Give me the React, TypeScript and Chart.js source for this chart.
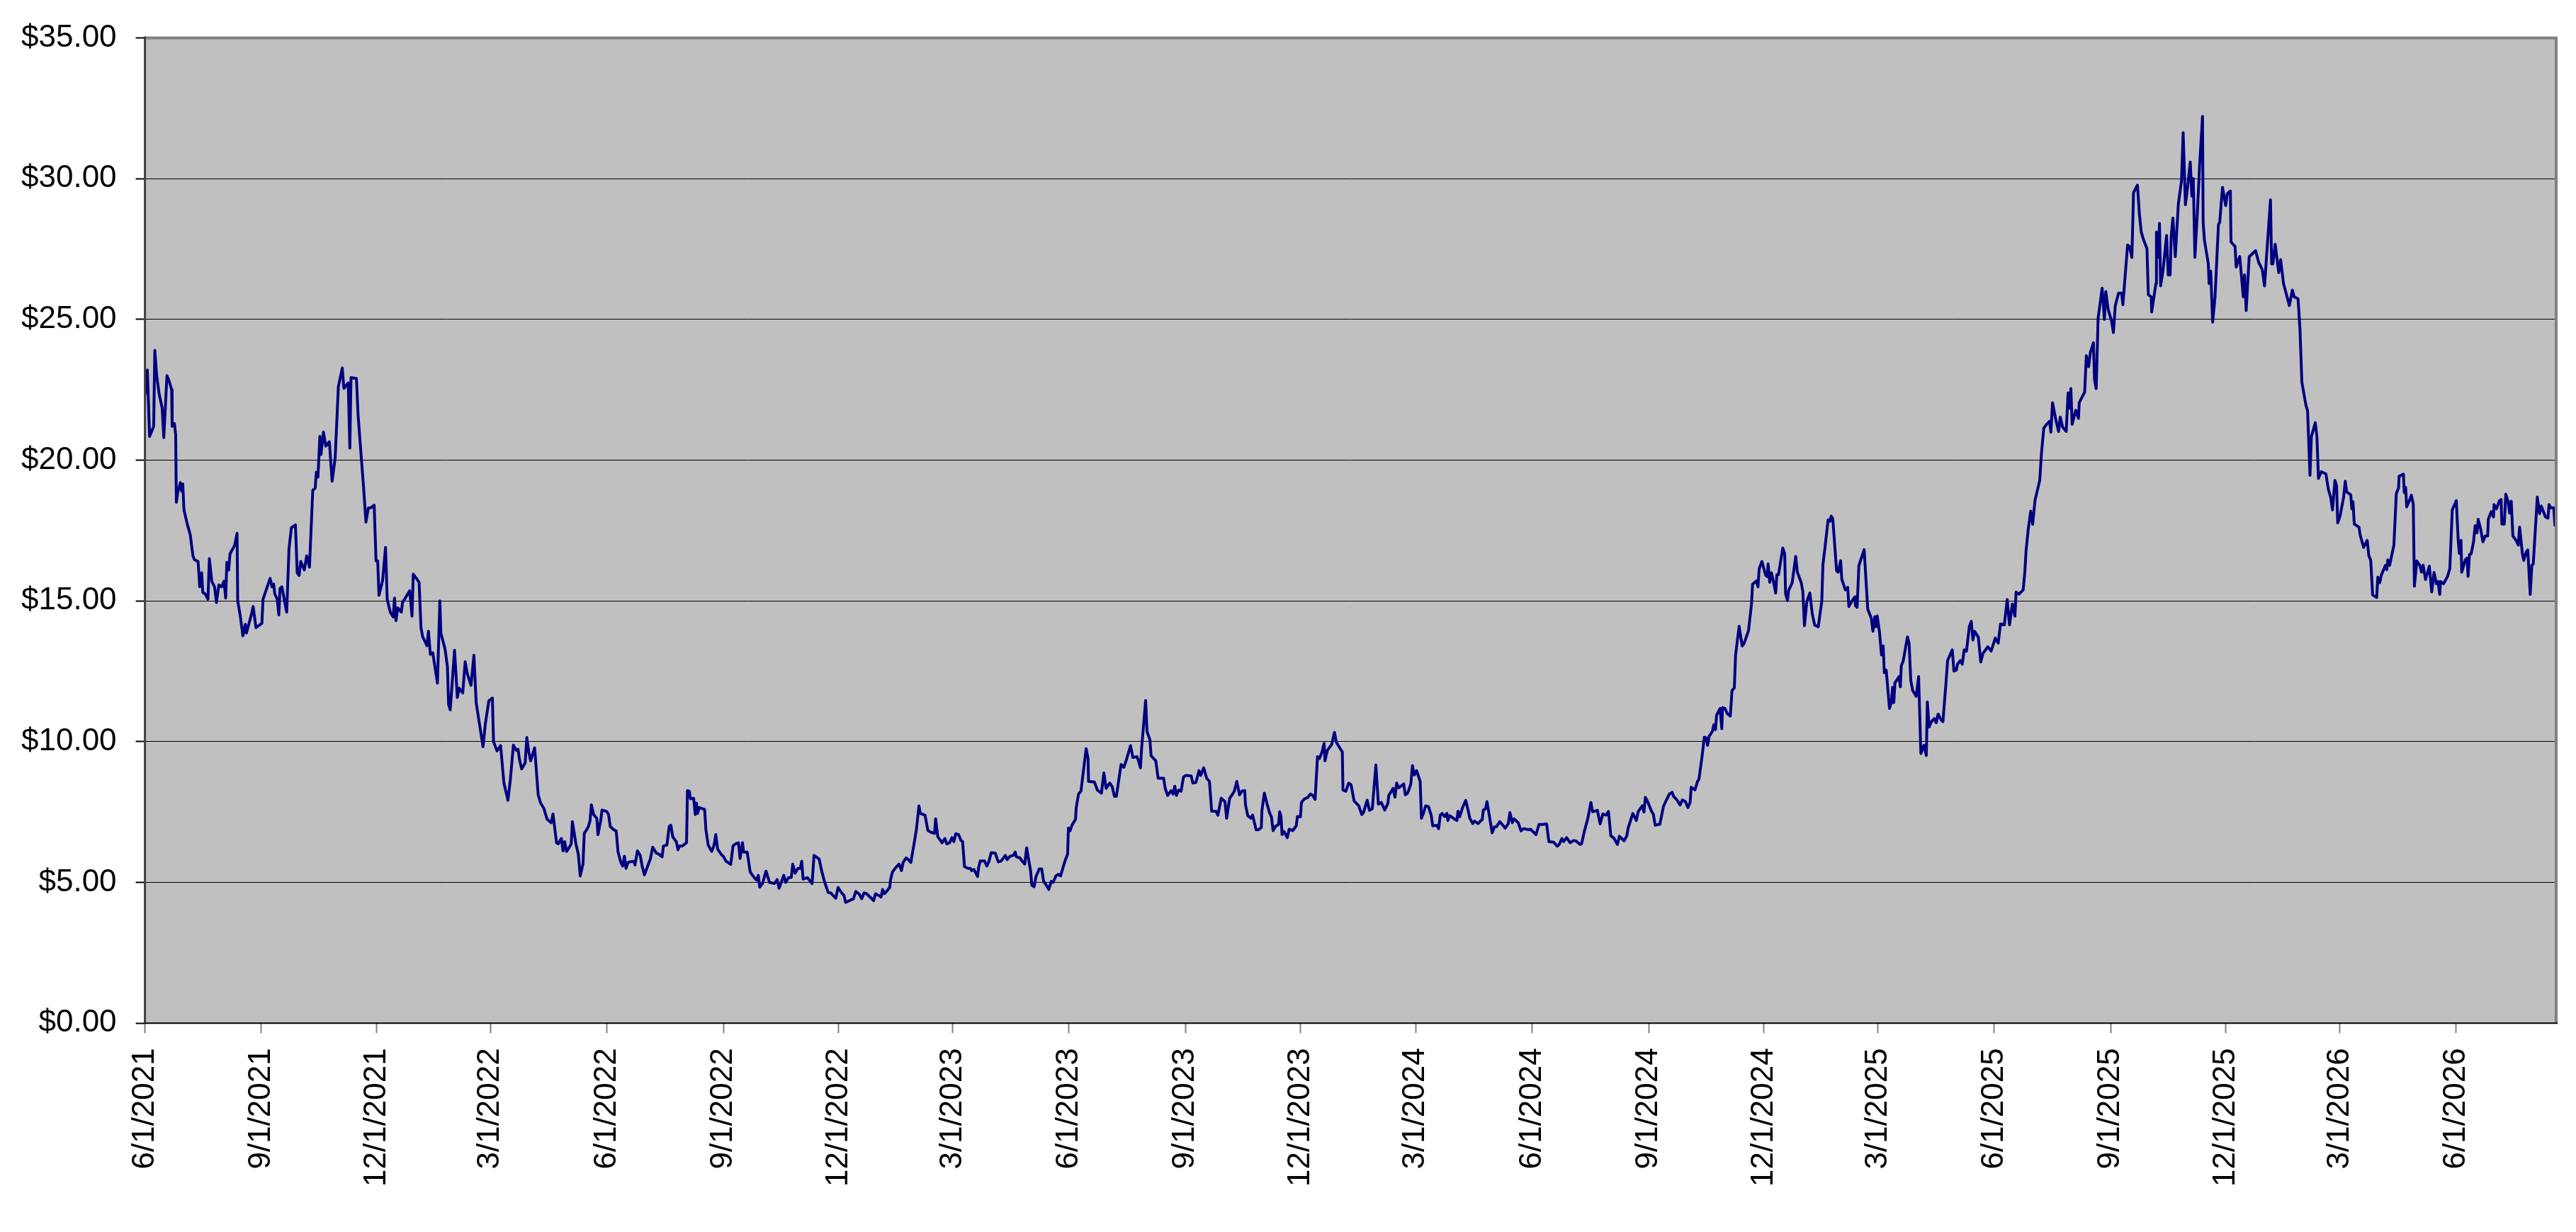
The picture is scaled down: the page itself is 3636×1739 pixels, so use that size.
import { useEffect, useRef } from "react";
import { Chart, registerables } from "chart.js";

Chart.register(...registerables);

// X values are days since 6/1/2021; Y values are prices in dollars.
const START_LABEL = "6/1/2021";
const END_DAY = 1905;

const tickLabels = [
  "6/1/2021", "9/1/2021", "12/1/2021",
  "3/1/2022", "6/1/2022", "9/1/2022", "12/1/2022",
  "3/1/2023", "6/1/2023", "9/1/2023", "12/1/2023",
  "3/1/2024", "6/1/2024", "9/1/2024", "12/1/2024",
  "3/1/2025", "6/1/2025", "9/1/2025", "12/1/2025",
  "3/1/2026", "6/1/2026",
];

const yTickValues = [0, 5, 10, 15, 20, 25, 30, 35];

// Jun 2021 - Mar 2022
const points2021: [number, number][] = [
  [0, 22.3], [1.9, 23.2], [3.7, 20.84], [6.9, 21.2], [7.8, 23.9], [9.3, 23.0], [11.2, 22.36], [13.6, 21.85],
  [14.9, 20.8], [17.4, 23.0], [19.2, 22.8], [21.1, 22.5], [21.5, 21.2], [23.3, 21.3], [24.3, 20.9], [24.8, 18.5],
  [26.1, 18.9], [28.0, 19.2], [28.9, 18.9], [29.9, 19.15], [30.8, 18.24], [33.6, 17.7], [35.8, 17.35], [37.9, 16.6],
  [39.2, 16.46], [42.0, 16.4], [43.3, 15.5], [44.8, 16.0], [45.7, 15.3], [47.6, 15.25], [49.8, 15.06], [50.9, 16.5],
  [52.8, 15.7], [55.0, 15.5], [56.5, 14.94], [58.4, 15.57], [60.6, 15.5], [62.5, 15.7], [63.8, 15.1], [64.7, 16.37],
  [66.2, 16.1], [67.2, 16.67], [70.9, 16.97], [72.8, 17.4], [73.3, 15.0], [75.2, 14.5], [77.4, 13.76], [79.3, 14.17],
  [80.2, 13.86], [84.0, 14.5], [85.5, 14.8], [87.7, 14.05], [92.4, 14.2], [93.3, 15.06], [98.9, 15.8], [100.4, 15.5],
  [101.7, 15.6], [102.6, 15.25], [104.5, 15.06], [105.8, 14.5], [106.7, 15.44], [108.2, 15.5], [112.0, 14.6], [113.8, 16.84],
  [115.7, 17.6], [118.9, 17.7], [120.3, 16.0], [121.8, 15.9], [123.1, 16.4], [125.9, 16.1], [127.8, 16.6], [130.0, 16.2],
  [132.6, 18.93], [134.5, 19.0], [135.4, 19.57], [136.7, 19.4], [138.2, 20.84], [139.1, 20.2], [141.0, 21.0], [142.9, 20.5],
  [145.7, 20.65], [147.9, 19.25], [150.3, 20.08], [152.8, 22.6], [155.9, 23.27], [157.2, 22.55], [160.6, 22.74], [161.9, 20.43],
  [162.8, 22.93], [167.1, 22.9], [168.4, 21.6], [170.3, 20.46], [172.7, 19.06], [174.6, 17.8], [176.5, 18.3], [178.3, 18.3],
  [181.1, 18.4], [182.6, 16.42], [183.9, 16.42], [184.9, 15.2], [187.7, 15.7], [190.1, 16.9], [191.4, 15.06], [193.8, 14.6],
  [196.1, 14.43], [197.2, 15.1], [198.3, 14.3], [199.8, 14.75], [202.6, 14.6], [203.5, 14.94], [209.2, 15.36], [211.0, 14.46],
  [212.0, 15.95], [216.6, 15.66], [218.1, 14.05], [219.4, 13.73], [222.8, 13.41], [224.0, 13.92], [225.5, 13.1], [227.4, 13.16],
  [231.1, 12.08], [233.0, 15.0], [233.8, 13.86], [237.1, 13.29], [239.0, 12.65], [239.9, 11.32], [241.2, 11.13], [244.6, 13.25],
  [246.8, 11.57], [248.3, 11.9], [251.1, 11.73], [253.0, 12.84], [254.8, 12.4], [257.6, 12.0], [259.9, 13.07], [261.7, 11.38],
  [267.1, 9.82], [268.9, 10.62], [271.7, 11.45], [274.5, 11.55], [275.4, 10.0], [278.2, 9.67], [281.0, 9.86],
];

// Mar 2022 - Dec 2022
const points2022: [number, number][] = [
  [283.6, 8.53], [286.8, 7.92], [288.7, 8.65], [291.1, 9.88], [293.5, 9.69], [294.8, 9.73], [295.8, 9.4], [297.6, 9.03],
  [300.4, 9.24], [301.7, 10.15], [303.2, 9.65], [304.7, 9.32], [307.9, 9.78], [310.7, 8.11], [312.6, 7.82], [315.3, 7.62],
  [316.3, 7.45], [317.8, 7.24], [320.9, 7.12], [322.4, 7.43], [325.2, 6.41], [326.5, 6.37], [329.0, 6.56], [330.3, 6.12],
  [331.6, 6.45], [333.1, 6.1], [335.3, 6.25], [336.8, 6.37], [337.7, 7.16], [340.5, 6.37], [342.4, 6.0], [343.9, 5.23],
  [346.1, 5.66], [347.1, 6.74], [348.9, 6.87], [350.4, 6.99], [351.7, 7.2], [352.7, 7.76], [354.5, 7.41], [357.0, 7.28],
  [357.9, 6.7], [360.1, 7.2], [361.1, 7.57], [364.8, 7.52], [366.3, 7.41], [367.6, 6.99], [370.4, 6.87], [372.3, 6.83],
  [373.8, 6.08], [376.0, 5.71], [377.5, 5.58], [378.8, 5.93], [380.1, 5.5], [381.6, 5.71], [383.1, 5.73], [386.3, 5.75],
  [387.2, 5.62], [389.1, 6.12], [391.3, 5.96], [392.8, 5.58], [394.6, 5.27], [396.5, 5.5], [399.3, 5.83], [401.2, 6.25],
  [404.0, 6.04], [405.8, 6.01], [408.6, 5.91], [409.6, 6.29], [412.4, 6.33], [414.2, 6.99], [415.5, 7.03], [417.0, 6.62],
  [419.8, 6.45], [421.1, 6.16], [422.3, 6.29], [424.5, 6.29], [427.9, 6.41], [428.6, 8.26], [430.1, 8.24], [431.0, 7.97],
  [433.5, 7.99], [434.8, 7.41], [435.7, 7.82], [436.6, 7.45], [437.9, 7.66], [442.2, 7.59], [443.2, 6.87], [445.0, 6.33],
  [447.8, 6.1], [449.7, 6.33], [451.0, 6.7], [452.5, 6.18], [455.3, 6.0], [457.2, 5.91], [459.0, 5.76], [462.8, 5.64],
  [464.6, 6.29], [466.5, 6.37], [468.9, 6.41], [470.2, 5.85], [472.1, 6.41], [473.0, 6.08], [475.8, 6.08], [478.2, 5.37],
  [481.4, 5.17], [483.3, 5.08], [484.6, 5.25], [485.7, 4.83], [487.9, 4.96], [490.7, 5.4], [493.5, 5.0], [497.3, 4.96],
  [499.5, 5.1], [501.0, 4.79], [504.7, 5.25], [506.2, 5.0], [508.5, 5.17], [510.7, 5.18], [511.8, 5.65], [513.7, 5.33],
  [515.9, 5.5], [517.8, 5.5], [518.9, 5.75], [520.0, 5.12], [523.4, 5.17], [527.1, 4.96], [528.6, 5.96], [532.7, 5.83],
  [534.6, 5.42], [536.8, 5.04], [539.8, 4.64], [541.7, 4.63], [545.8, 4.44], [547.6, 4.82], [550.4, 4.63], [552.3, 4.54],
  [553.6, 4.29], [556.0, 4.34], [559.8, 4.42], [561.6, 4.68], [564.4, 4.58], [566.3, 4.42],
];

// Dec 2022 - Oct 2023
const points2023: [number, number][] = [
  [568.2, 4.63], [570.1, 4.6], [572.9, 4.48], [575.7, 4.35], [577.2, 4.6], [580.3, 4.52], [581.6, 4.48], [582.8, 4.75],
  [584.1, 4.6], [585.9, 4.68], [588.4, 4.82], [589.1, 5.1], [590.6, 5.37], [593.4, 5.54], [595.8, 5.65], [597.7, 5.42],
  [599.0, 5.71], [601.4, 5.87], [602.7, 5.83], [605.1, 5.71], [607.8, 6.41], [609.6, 6.91], [611.5, 7.72], [612.6, 7.45],
  [616.3, 7.39], [618.6, 6.84], [622.3, 6.76], [623.8, 6.74], [624.7, 7.26], [626.4, 6.62], [629.8, 6.41], [632.0, 6.56],
  [633.5, 6.37], [635.7, 6.41], [637.6, 6.59], [639.1, 6.45], [640.6, 6.73], [642.8, 6.7], [644.7, 6.49], [646.0, 6.45],
  [647.5, 5.56], [650.3, 5.5], [652.2, 5.5], [653.1, 5.42], [655.0, 5.46], [657.8, 5.21], [658.7, 5.54], [660.0, 5.76],
  [663.4, 5.76], [665.2, 5.58], [666.7, 5.73], [668.6, 6.06], [671.8, 6.04], [674.2, 5.73], [676.4, 5.76], [679.8, 5.96],
  [681.1, 5.81], [683.5, 5.93], [686.1, 5.96], [687.6, 6.08], [688.5, 5.91], [691.3, 5.87], [693.2, 5.75], [695.1, 5.65],
  [696.6, 6.23], [698.4, 5.75], [699.7, 5.42], [700.7, 4.9], [702.5, 4.85], [704.0, 5.21], [706.6, 5.48], [708.5, 5.48],
  [710.0, 5.04], [711.9, 4.92], [714.1, 4.75], [716.0, 5.04], [717.5, 5.0], [719.7, 5.23], [721.6, 5.29], [723.4, 5.23],
  [726.8, 5.75], [729.0, 6.01], [729.6, 6.93], [730.9, 6.83], [732.4, 7.03], [735.2, 7.24], [735.8, 7.66], [737.6, 8.14],
  [739.5, 8.24], [743.6, 9.75], [745.1, 9.4], [745.5, 8.59], [750.1, 8.57], [752.5, 8.28], [755.7, 8.17], [757.6, 8.89],
  [759.4, 8.34], [762.2, 8.53], [764.1, 8.41], [766.0, 8.06], [767.5, 8.06], [771.2, 9.19], [773.4, 9.09], [775.3, 9.34],
  [778.7, 9.86], [780.5, 9.44], [783.7, 9.47], [785.0, 9.32], [786.5, 9.07], [787.4, 9.75], [790.6, 11.46], [791.7, 10.36],
  [794.0, 10.07], [794.9, 9.5], [798.6, 9.32], [800.5, 8.7], [804.8, 8.7], [806.1, 8.34], [808.0, 8.09], [810.8, 8.26],
  [812.3, 8.14], [813.6, 8.42], [814.9, 8.09], [816.7, 8.28], [818.6, 8.24], [820.5, 8.74], [822.3, 8.8], [826.6, 8.78],
  [827.9, 8.53], [830.3, 8.55], [832.8, 8.97], [834.1, 8.8], [836.5, 9.07], [838.8, 8.7], [841.0, 8.59], [842.8, 7.53],
  [846.2, 7.53], [847.7, 7.39], [850.3, 7.99], [853.3, 7.87], [854.6, 7.28], [857.0, 7.99], [859.3, 8.14],
];

// Oct 2023 - Aug 2024
const points2024: [number, number][] = [
  [860.7, 8.24], [862.6, 8.59], [864.8, 8.11], [866.7, 8.24], [868.9, 8.26], [869.5, 7.76], [871.3, 7.37], [873.8, 7.28],
  [875.1, 7.39], [877.9, 6.87], [879.7, 6.87], [882.0, 6.95], [882.5, 7.56], [884.4, 8.17], [886.8, 7.74], [888.7, 7.45],
  [890.0, 7.33], [891.3, 6.84], [893.2, 6.99], [895.6, 7.06], [896.5, 7.51], [897.5, 7.37], [898.4, 6.7], [899.9, 6.81],
  [902.5, 6.59], [904.0, 6.89], [906.8, 6.84], [909.6, 7.01], [910.5, 7.34], [912.9, 7.33], [913.7, 7.84], [916.1, 7.97],
  [918.5, 8.01], [920.8, 8.14], [922.6, 8.09], [924.5, 7.95], [926.4, 9.47], [927.9, 9.4], [930.1, 9.65], [931.6, 9.94],
  [932.3, 9.32], [934.2, 9.69], [937.6, 9.9], [939.8, 10.33], [941.3, 9.98], [946.0, 9.63], [946.5, 8.28], [948.8, 8.24],
  [951.0, 8.53], [952.9, 8.47], [955.3, 7.89], [959.0, 7.72], [961.4, 7.41], [962.8, 7.49], [965.6, 7.92], [967.4, 7.56],
  [969.7, 7.62], [972.5, 9.17], [974.5, 7.78], [976.8, 7.84], [979.5, 7.57], [982.0, 7.81], [982.7, 8.09], [986.1, 8.34],
  [987.6, 8.03], [988.9, 8.53], [990.7, 8.36], [994.5, 8.5], [995.8, 8.11], [997.6, 8.17], [1000.1, 8.49], [1001.4, 9.15],
  [1002.9, 8.82], [1004.7, 8.97], [1007.5, 8.59], [1008.5, 7.28], [1010.0, 7.45], [1011.8, 7.72], [1014.1, 7.69], [1016.3, 7.37],
  [1017.4, 7.01], [1020.6, 7.03], [1022.1, 6.91], [1023.4, 7.39], [1024.9, 7.45], [1026.8, 7.34], [1028.6, 7.45], [1029.4, 7.2],
  [1030.9, 7.37], [1033.7, 7.28], [1036.5, 7.2], [1037.4, 7.53], [1038.7, 7.33], [1041.1, 7.67], [1043.5, 7.91], [1045.4, 7.56],
  [1046.7, 7.28], [1049.1, 7.09], [1050.4, 7.18], [1053.2, 7.09], [1056.6, 7.24], [1057.4, 7.57], [1059.2, 7.62], [1060.3, 7.87],
  [1064.4, 6.76], [1066.3, 6.98], [1067.8, 6.98], [1070.4, 7.16], [1072.3, 7.06], [1074.7, 6.93], [1077.1, 7.09], [1078.4, 7.48],
  [1080.3, 7.12], [1081.6, 7.26], [1085.0, 7.12], [1087.2, 6.83], [1089.1, 6.91], [1093.4, 6.87], [1094.7, 6.89], [1099.0, 6.7],
  [1101.4, 7.06], [1103.6, 7.06], [1107.4, 7.08], [1109.2, 6.45], [1113.0, 6.43], [1115.8, 6.29], [1117.1, 6.33], [1119.5, 6.56],
  [1120.8, 6.45], [1123.2, 6.59], [1126.0, 6.41], [1128.8, 6.49], [1130.7, 6.47], [1133.9, 6.35], [1135.0, 6.37], [1137.2, 6.81],
  [1140.0, 7.28], [1142.4, 7.84], [1143.7, 7.51], [1147.5, 7.56], [1149.7, 7.08],
];

// Aug 2024 - Jun 2025
const points2025a: [number, number][] = [
  [1151.8, 7.43], [1154.4, 7.39], [1156.3, 7.52], [1158.1, 6.66], [1160.6, 6.57], [1163.4, 6.35], [1164.9, 6.64], [1168.6, 6.48],
  [1170.8, 6.66], [1171.8, 6.93], [1175.5, 7.45], [1178.3, 7.2], [1179.8, 7.52], [1183.0, 7.72], [1184.3, 7.5], [1185.4, 8.02],
  [1187.2, 7.87], [1190.4, 7.52], [1191.7, 7.43], [1193.2, 7.03], [1196.9, 7.07], [1199.7, 7.7], [1201.1, 7.84], [1204.4, 8.14],
  [1206.6, 8.2], [1207.8, 8.05], [1210.4, 7.93], [1212.8, 7.75], [1214.7, 7.93], [1217.1, 7.87], [1219.0, 7.66], [1220.8, 7.84],
  [1221.6, 8.38], [1224.6, 8.29], [1226.8, 8.61], [1227.7, 8.65], [1230.2, 9.47], [1232.0, 10.16], [1233.3, 10.14], [1234.6, 9.87],
  [1235.8, 10.19], [1238.4, 10.37], [1239.5, 10.6], [1240.8, 10.43], [1241.7, 10.94], [1244.5, 11.18], [1245.8, 10.46], [1246.4, 11.21],
  [1248.3, 11.18], [1250.1, 11.0], [1252.5, 10.91], [1253.9, 11.82], [1255.7, 11.91], [1256.7, 13.08], [1259.5, 14.1], [1261.9, 13.4],
  [1263.2, 13.47], [1266.9, 13.94], [1269.3, 14.89], [1270.1, 15.59], [1273.1, 15.71], [1274.4, 15.5], [1275.3, 16.13], [1277.5, 16.4],
  [1280.5, 15.91], [1281.8, 15.86], [1282.4, 16.31], [1283.7, 15.66], [1285.0, 16.0], [1286.5, 15.71], [1288.4, 15.28], [1289.3, 15.93],
  [1290.6, 15.93], [1294.0, 16.88], [1295.5, 16.67], [1296.2, 15.25], [1297.7, 15.01], [1298.6, 15.37], [1301.4, 15.64], [1304.2, 16.58],
  [1305.5, 16.02], [1308.5, 15.66], [1309.8, 15.34], [1311.1, 14.12], [1313.0, 14.98], [1315.4, 15.28], [1317.3, 14.53], [1319.2, 14.14],
  [1322.0, 14.08], [1324.8, 14.98], [1325.7, 16.29], [1327.2, 16.84], [1329.8, 17.88], [1331.3, 17.83], [1332.2, 18.01], [1333.5, 17.92],
  [1336.5, 16.07], [1337.8, 16.02], [1339.7, 16.43], [1340.6, 15.77], [1343.4, 15.39], [1345.3, 15.48], [1346.2, 14.8], [1348.4, 14.98],
  [1350.9, 15.14], [1351.4, 14.83], [1352.7, 14.77], [1354.1, 16.25], [1358.3, 16.82], [1361.1, 14.71], [1363.9, 14.39], [1365.2, 13.92],
  [1366.7, 14.44], [1367.7, 14.08], [1368.6, 14.47], [1370.5, 13.85], [1372.0, 13.08], [1373.3, 13.4], [1374.2, 12.45], [1375.7, 12.54],
  [1378.3, 11.18], [1379.8, 11.39], [1380.7, 11.93], [1381.7, 11.39], [1382.6, 12.09], [1385.8, 12.31], [1386.9, 11.95], [1387.6, 12.69],
  [1389.1, 12.86], [1392.5, 13.72], [1393.8, 13.49], [1395.1, 12.18], [1396.6, 11.82], [1399.4, 11.61], [1401.3, 12.31], [1403.1, 9.58],
  [1405.5, 9.87], [1407.4, 9.51], [1408.2, 11.41], [1409.6, 10.52], [1411.1, 10.69], [1413.7, 10.82], [1415.2, 10.67], [1416.7, 10.98],
  [1419.0, 10.78], [1420.5, 10.71], [1422.7, 11.95], [1424.2, 12.88], [1427.9, 13.26], [1429.2, 12.51], [1431.1, 12.54], [1432.0, 12.75],
  [1434.3, 12.88], [1435.8, 12.75], [1437.3, 13.26], [1439.1, 13.21], [1441.4, 14.1],
];

// Jun 2025 - Feb 2026
const points2025b: [number, number][] = [
  [1442.9, 14.27], [1444.2, 13.61], [1445.5, 13.92], [1448.5, 13.71], [1450.4, 12.83], [1452.2, 13.14], [1456.0, 13.37], [1458.6, 13.22],
  [1461.9, 13.68], [1464.2, 13.5], [1466.0, 14.18], [1469.0, 14.15], [1471.3, 15.05], [1473.1, 14.15], [1475.4, 14.89], [1477.4, 14.46],
  [1478.3, 15.31], [1480.6, 15.24], [1483.9, 15.39], [1485.2, 16.01], [1486.2, 16.79], [1488.0, 17.57], [1489.9, 18.19], [1491.4, 17.72],
  [1493.3, 18.58], [1497.0, 19.28], [1498.3, 20.21], [1500.2, 21.14], [1503.0, 21.3], [1504.8, 21.38], [1505.8, 20.99], [1507.1, 22.04],
  [1509.5, 21.48], [1511.9, 21.02], [1513.2, 21.53], [1515.1, 21.17], [1517.9, 21.02], [1519.4, 22.39], [1520.7, 21.84], [1521.6, 22.54],
  [1522.6, 21.27], [1525.4, 21.77], [1527.6, 21.48], [1528.2, 22.04], [1532.5, 22.42], [1533.8, 23.71], [1535.6, 23.32], [1537.0, 23.82],
  [1539.4, 24.17], [1540.3, 22.85], [1541.6, 22.54], [1543.1, 25.03], [1546.3, 26.11], [1548.1, 25.0], [1549.2, 25.99], [1551.1, 25.34],
  [1553.7, 24.95], [1555.2, 24.53], [1556.7, 25.49], [1559.3, 25.93], [1561.7, 25.93], [1562.7, 25.52], [1566.4, 27.64], [1567.9, 27.59],
  [1569.8, 27.2], [1571.1, 29.5], [1574.2, 29.77], [1575.7, 28.76], [1577.2, 28.1], [1579.1, 27.82], [1581.7, 27.51], [1582.8, 25.88],
  [1585.1, 25.8], [1585.4, 25.26], [1588.8, 26.27], [1589.2, 28.1], [1590.7, 27.2], [1591.6, 28.41], [1592.5, 26.19], [1594.4, 26.74],
  [1597.2, 27.98], [1598.5, 26.58], [1600.0, 26.58], [1600.9, 27.98], [1602.2, 28.6], [1604.1, 27.23], [1606.5, 29.1], [1609.0, 29.92],
  [1610.3, 31.63], [1612.1, 29.07], [1614.0, 29.77], [1615.9, 30.59], [1617.2, 29.38], [1618.3, 30.0], [1619.6, 27.2], [1621.5, 28.76],
  [1623.3, 30.47], [1625.6, 32.21], [1626.1, 28.45], [1627.1, 27.82], [1630.2, 26.97], [1630.8, 26.27], [1632.1, 26.71], [1633.6, 24.9],
  [1635.5, 25.8], [1638.2, 28.37], [1639.2, 28.45], [1641.4, 29.69], [1643.9, 29.04], [1645.2, 29.46], [1647.6, 29.56], [1648.1, 27.75],
  [1651.3, 27.59], [1652.2, 26.86], [1655.0, 27.23], [1657.8, 25.8], [1658.8, 26.58], [1660.1, 25.31], [1662.5, 27.23], [1664.9, 27.33],
  [1667.5, 27.44], [1670.0, 27.02], [1672.8, 26.77], [1674.6, 26.19], [1679.3, 29.25], [1680.2, 26.97], [1681.2, 26.97], [1683.0, 27.67],
  [1685.8, 26.66], [1687.3, 27.12], [1689.6, 26.27], [1692.4, 25.8], [1694.2, 25.49], [1696.6, 26.04], [1698.0, 25.8], [1701.1, 25.73],
  [1702.6, 24.64], [1704.1, 22.77], [1707.3, 21.95], [1708.6, 21.76], [1710.5, 19.46], [1711.6, 20.83], [1714.7, 21.33], [1716.0, 20.83],
  [1717.2, 19.35], [1719.4, 19.59], [1723.1, 19.51],
];

// Feb 2026 - Aug 2026
const points2026: [number, number][] = [
  [1725.0, 18.97], [1726.8, 18.69], [1728.3, 18.23], [1730.2, 19.28], [1731.5, 19.1], [1732.4, 17.77], [1734.3, 18.02], [1737.1, 18.69],
  [1738.4, 19.25], [1739.5, 18.87], [1742.7, 18.77], [1743.6, 18.27], [1744.5, 18.52], [1745.5, 17.73], [1749.2, 17.62], [1750.1, 17.35],
  [1752.9, 16.9], [1755.7, 17.15], [1757.0, 16.61], [1758.5, 16.44], [1760.0, 15.21], [1763.2, 15.12], [1764.1, 15.84], [1765.6, 15.65],
  [1766.9, 15.92], [1770.1, 16.26], [1771.2, 16.11], [1772.0, 16.46], [1773.4, 16.26], [1776.8, 16.98], [1778.7, 18.81], [1780.5, 19.02],
  [1780.9, 19.43], [1784.3, 19.5], [1785.0, 18.85], [1786.1, 19.03], [1786.9, 18.34], [1789.3, 18.59], [1790.6, 18.75], [1792.1, 18.45],
  [1793.0, 15.52], [1794.9, 16.42], [1797.3, 16.26], [1798.6, 16.02], [1799.9, 16.27], [1801.8, 15.76], [1804.8, 16.23], [1806.7, 15.32],
  [1808.5, 16.01], [1810.4, 15.61], [1811.7, 15.69], [1813.0, 15.23], [1813.6, 15.69], [1816.0, 15.61], [1819.2, 15.87], [1821.0, 16.15],
  [1822.9, 18.23], [1826.1, 18.56], [1827.6, 17.17], [1828.5, 16.69], [1829.8, 17.15], [1830.4, 16.02], [1833.2, 16.46], [1834.6, 16.52],
  [1835.4, 15.87], [1836.5, 16.65], [1837.8, 16.67], [1839.7, 17.09], [1841.0, 17.67], [1842.5, 17.42], [1843.4, 17.9], [1845.3, 17.56],
  [1847.1, 17.1], [1849.0, 17.31], [1850.9, 17.31], [1851.4, 17.9], [1853.7, 18.17], [1855.5, 17.98], [1855.9, 18.42], [1857.8, 18.27],
  [1860.2, 18.56], [1861.5, 18.6], [1862.1, 17.73], [1864.0, 17.73], [1865.2, 18.79], [1867.1, 18.52], [1868.2, 18.12], [1869.5, 18.54],
  [1870.8, 17.31], [1873.3, 17.15], [1875.1, 16.98], [1876.1, 17.62], [1878.3, 16.69], [1879.4, 16.44], [1881.3, 16.73], [1882.6, 16.81],
  [1884.5, 15.23], [1885.8, 16.27], [1886.9, 16.31], [1890.1, 18.69], [1891.9, 18.1], [1893.2, 18.37], [1896.6, 17.98], [1898.5, 17.94],
  [1899.4, 18.42], [1900.7, 18.31], [1903.1, 18.31], [1904.1, 17.65],
];

const allPoints = [
  ...points2021, ...points2022, ...points2023, ...points2024,
  ...points2025a, ...points2025b, ...points2026,
];

function labelToUtc(label: string): number {
  const [m, d, y] = label.split("/").map(Number);
  return Date.UTC(y, m - 1, d);
}

const startUtc = labelToUtc(START_LABEL);
const tickDays = tickLabels.map((l) => Math.round((labelToUtc(l) - startUtc) / 86400000));

const FONT = '"Liberation Sans", Arial, Helvetica, sans-serif';

const plotFrame = {
  id: "plotFrame",
  beforeDraw(chart: any) {
    const { ctx, chartArea } = chart;
    if (!chartArea) return;
    ctx.save();
    ctx.fillStyle = "#C0C0C0";
    ctx.fillRect(chartArea.left, chartArea.top, chartArea.right - chartArea.left, chartArea.bottom - chartArea.top);
    ctx.restore();
  },
  afterDraw(chart: any) {
    const { ctx, chartArea } = chart;
    if (!chartArea) return;
    const { left, right, top, bottom } = chartArea;
    ctx.save();
    ctx.strokeStyle = "#808080";
    ctx.lineWidth = 4;
    ctx.beginPath();
    ctx.moveTo(left, top);
    ctx.lineTo(right, top);
    ctx.lineTo(right, bottom);
    ctx.stroke();
    ctx.strokeStyle = "#404040";
    ctx.lineWidth = 3;
    ctx.beginPath();
    ctx.moveTo(left, top - 2);
    ctx.lineTo(left, bottom);
    ctx.stroke();
    ctx.strokeStyle = "#000000";
    ctx.lineWidth = 2;
    ctx.beginPath();
    ctx.moveTo(left, bottom);
    ctx.lineTo(right + 2, bottom);
    ctx.stroke();
    ctx.restore();
  },
};

export default function App() {
  const canvasRef = useRef<HTMLCanvasElement | null>(null);

  useEffect(() => {
    const canvas = canvasRef.current;
    if (!canvas) return;
    const chart = new Chart(canvas, {
      type: "line",
      data: {
        datasets: [
          {
            data: allPoints.map(([x, y]) => ({ x, y })),
            borderColor: "#000080",
            borderWidth: 4,
            pointRadius: 0,
            pointHoverRadius: 0,
            tension: 0,
            fill: false,
            borderJoinStyle: "round",
          },
        ],
      },
      options: {
        animation: false,
        responsive: false,
        devicePixelRatio: 1,
        layout: { padding: { left: 3, right: 28, top: 39, bottom: 43 } },
        plugins: {
          legend: { display: false },
          tooltip: { enabled: false },
        },
        scales: {
          x: {
            type: "linear",
            min: 0,
            max: END_DAY,
            afterBuildTicks: (axis: any) => {
              axis.ticks = tickDays.map((v) => ({ value: v }));
            },
            ticks: {
              autoSkip: false,
              maxRotation: 90,
              minRotation: 90,
              padding: 21,
              color: "#000",
              font: { family: FONT, size: 44 },
              callback: (_v: any, i: number) => tickLabels[i] ?? "",
            },
            grid: {
              drawOnChartArea: false,
              drawTicks: true,
              tickLength: 14,
              tickColor: "#808080",
              tickWidth: 2,
            },
            border: { display: false },
          },
          y: {
            min: 0,
            max: 35,
            afterBuildTicks: (axis: any) => {
              axis.ticks = yTickValues.map((v) => ({ value: v }));
            },
            ticks: {
              padding: 27,
              color: "#000",
              font: { family: FONT, size: 44 },
              callback: (v: any) => "$" + Number(v).toFixed(2),
            },
            grid: {
              color: "#000",
              lineWidth: 1,
              tickLength: 13,
              tickColor: "#000",
              tickWidth: 2,
            },
            border: { display: false },
          },
        },
      },
      plugins: [plotFrame],
    } as any);
    return () => chart.destroy();
  }, []);

  return (
    <div style={{ position: "fixed", left: 0, top: 0, width: 3636, height: 1739, background: "#ffffff" }}>
      <canvas ref={canvasRef} width={3636} height={1739} style={{ display: "block", width: 3636, height: 1739 }} />
    </div>
  );
}
